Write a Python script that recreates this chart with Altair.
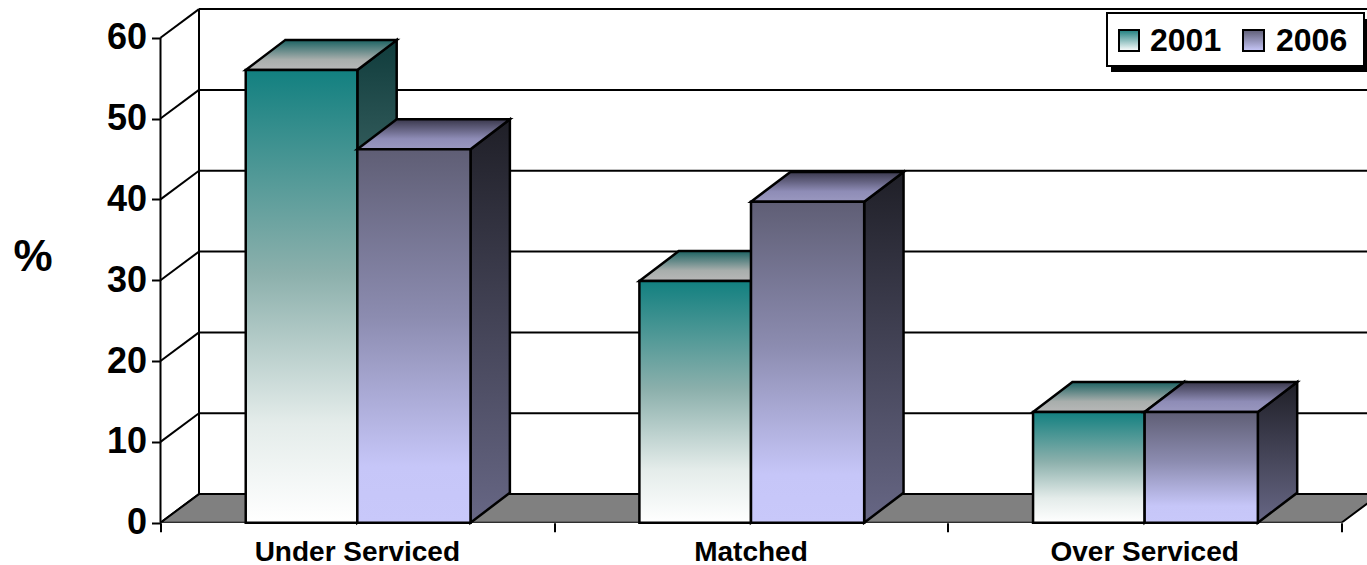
import altair as alt
import pandas as pd

# Values read per category
categories = ["Under Serviced", "Matched", "Over Serviced"]
series_2001 = [56.0, 29.9, 13.7]
series_2006 = [46.2, 39.7, 13.7]
y_ticks = [0, 10, 20, 30, 40, 50, 60]
x_ticks = [0, 1, 2, 3]

# Geometry of the pseudo-3D box, in data units
BAR_W_2001 = 0.2835
BAR_W_2006 = 0.2875
BAR_DX = 0.1
BAR_DY = 3.7
DEPTH_X = 0.0978
DEPTH_Y = 3.54
X_MAX = 3.0648
Y_MAX = 63.55

LEFT, TOP, PLOT_W, PLOT_H = 160.5, 9.0, 1206.5, 513.7
FONT = "Liberation Sans"

x_scale = alt.Scale(domain=[0, X_MAX], nice=False, zero=False)
y_scale = alt.Scale(domain=[0, Y_MAX], nice=False, zero=False)
x_axis = alt.Axis(
    values=x_ticks, labels=False, title=None, domain=False, grid=False,
    tickSize=9, tickWidth=2, tickColor="black",
)
y_axis = alt.Axis(
    values=y_ticks, title=None, domain=False, grid=False, tickSize=9,
    tickWidth=2, tickColor="black", labelPadding=5, labelFont=FONT,
    labelFontWeight="bold", labelFontSize=36, labelColor="black",
)


def X(field):
    return alt.X(field, type="quantitative", scale=x_scale, axis=x_axis)


def Y(field):
    return alt.Y(field, type="quantitative", scale=y_scale, axis=y_axis)


def vgrad(*stops):
    return alt.Gradient(
        gradient="linear", x1=0, x2=0, y1=0, y2=1,
        stops=[alt.GradientStop(color=c, offset=o) for c, o in stops],
    )


def faces(values, first_offset, width):
    """Front, side and top faces for one series."""
    front, side, top = [], [], []
    for i, v in enumerate(values):
        x0 = i + 0.5 + first_offset
        x1 = x0 + width
        front.append({"x": x0, "x2": x1, "y": v, "y2": 0})
        side += [
            {"bar": i, "x": x1, "y": v, "y2": 0},
            {"bar": i, "x": x1 + BAR_DX, "y": v + BAR_DY, "y2": BAR_DY},
        ]
        top += [
            {"bar": i, "y": v, "x": x0, "x2": x1},
            {"bar": i, "y": v + BAR_DY, "x": x0 + BAR_DX, "x2": x1 + BAR_DX},
        ]
    return pd.DataFrame(front), pd.DataFrame(side), pd.DataFrame(top)


def series_layers(values, first_offset, width, front_fill, side_fill, top_fill):
    front, side, top = faces(values, first_offset, width)
    stroke = dict(stroke="black", strokeWidth=2.5)
    return [
        alt.Chart(side).mark_area(orient="vertical", fill=side_fill, **stroke).encode(
            x=X("x"), y=Y("y"), y2="y2", detail="bar:N"
        ),
        alt.Chart(top).mark_area(orient="horizontal", fill=top_fill, **stroke).encode(
            y=Y("y"), x=X("x"), x2="x2", detail="bar:N"
        ),
        alt.Chart(front).mark_bar(fill=front_fill, **stroke).encode(
            x=X("x"), x2="x2", y=Y("y"), y2="y2"
        ),
    ]


line = dict(color="black", strokeWidth=2)

# Wall lines; the first layer also carries both axes
back_grid = pd.DataFrame(
    {"y": [t + DEPTH_Y for t in y_ticks], "x": DEPTH_X, "x2": X_MAX}
)
back_lines = alt.Chart(back_grid).mark_rule(**line).encode(
    x=X("x"), x2="x2", y=Y("y")
)
side_grid = pd.DataFrame(
    {"x": 0, "x2": DEPTH_X, "y": y_ticks, "y2": [t + DEPTH_Y for t in y_ticks]}
)
side_lines = alt.Chart(side_grid).mark_rule(**line).encode(
    x=X("x"), x2="x2", y=Y("y"), y2="y2"
)
walls = pd.DataFrame(
    {"x": [0, DEPTH_X], "y": [0, DEPTH_Y], "y2": [60, 60 + DEPTH_Y]}
)
wall_lines = alt.Chart(walls).mark_rule(**line).encode(x=X("x"), y=Y("y"), y2="y2")

# Grey floor, running off the right edge
floor = pd.DataFrame(
    {"y": [0, DEPTH_Y], "x": [0, DEPTH_X], "x2": [3, 3 + DEPTH_X]}
)
floor_layer = alt.Chart(floor).mark_area(
    orient="horizontal", fill="#808080", stroke="black", strokeWidth=2, clip=True
).encode(y=Y("y"), x=X("x"), x2="x2")

bars_2001 = series_layers(
    series_2001, -BAR_W_2001, BAR_W_2001,
    vgrad(("#128080", 0), ("#8cb0ac", 0.45), ("#e4ecea", 0.78), ("#ffffff", 1)),
    vgrad(("#103c3c", 0), ("#9dbcbc", 1)),
    vgrad(("#1d6363", 0), ("#a8aeac", 0.65), ("#b8b8b8", 1)),
)
bars_2006 = series_layers(
    series_2006, 0, BAR_W_2006,
    vgrad(("#5f5e75", 0), ("#8c8cb0", 0.45), ("#c6c6f8", 0.85), ("#c8c8fa", 1)),
    vgrad(("#1f1f27", 0), ("#676785", 1)),
    vgrad(("#3a384c", 0), ("#8e8cb6", 0.65), ("#9a98c0", 1)),
)

# Category names under the floor
cat_df = pd.DataFrame({"label": categories, "x": [0.5, 1.5, 2.5]})
cat_labels = alt.Chart(cat_df).mark_text(
    font=FONT, fontWeight="bold", fontSize=28, color="black", baseline="middle"
).encode(x=X("x"), y=alt.value(543.5), text="label:N")

unit_label = alt.Chart(pd.DataFrame({"t": ["%"]})).mark_text(
    font=FONT, fontWeight="bold", fontSize=44, color="black", baseline="middle"
).encode(x=alt.value(33 - LEFT), y=alt.value(258 - TOP), text="t:N")


# Legend panel, built from fixed-position marks so its keys can carry gradients
def box(x0, x1, y0, y1, **mark):
    return alt.Chart(pd.DataFrame({"k": [0]})).mark_rect(**mark).encode(
        x=alt.value(x0 - LEFT), x2=alt.value(x1 - LEFT),
        y=alt.value(y0 - TOP), y2=alt.value(y1 - TOP),
    )


def legend_text(label, x0):
    return alt.Chart(pd.DataFrame({"t": [label]})).mark_text(
        font=FONT, fontWeight="bold", fontSize=32, color="black",
        baseline="middle", align="left",
    ).encode(x=alt.value(x0 - LEFT), y=alt.value(41 - TOP), text="t:N")


legend_layers = [
    box(1111, 1372, 19, 72, fill="black"),
    box(1107, 1364, 13, 66, fill="white", stroke="black", strokeWidth=2),
    box(1119, 1139, 30, 51, fill=vgrad(("#1f7f7f", 0), ("#ffffff", 1)), stroke="black", strokeWidth=2),
    box(1243, 1264, 30, 51, fill=vgrad(("#5f5e75", 0), ("#c8c8fa", 1)), stroke="black", strokeWidth=2),
    legend_text("2001", 1150),
    legend_text("2006", 1276),
]

chart = alt.layer(
    back_lines, side_lines, wall_lines, floor_layer,
    *bars_2001, *bars_2006,
    cat_labels, unit_label, *legend_layers,
).properties(
    width=PLOT_W,
    height=PLOT_H,
    autosize=alt.AutoSizeParams(type="none"),
    padding={"left": LEFT, "top": TOP, "right": 0, "bottom": 565 - TOP - PLOT_H},
    background="white",
).configure_view(stroke=None)

chart.save("out.html", embed_options={"renderer": "svg", "actions": False})
